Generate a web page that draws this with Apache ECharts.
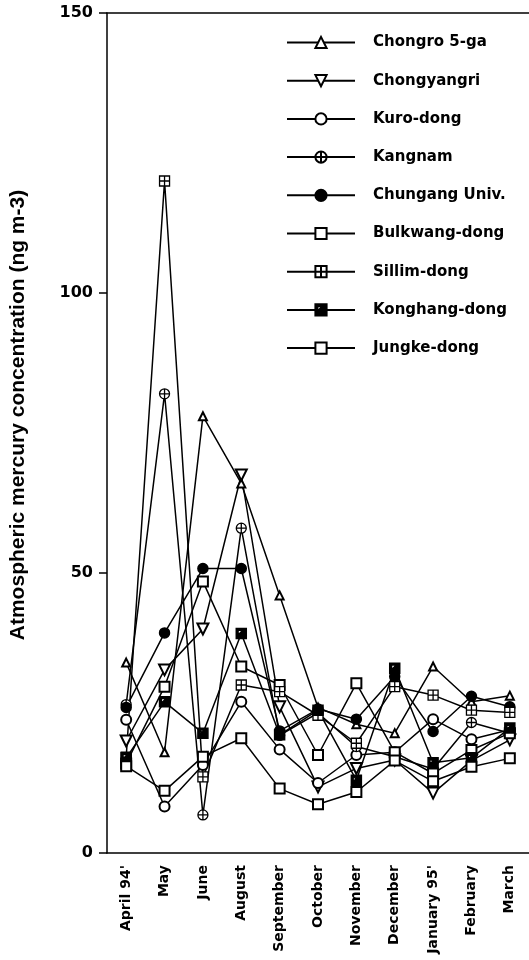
<!DOCTYPE html>
<html>
<head>
<meta charset="utf-8">
<script src="https://cdn.jsdelivr.net/npm/echarts@6/dist/echarts.min.js"></script>
<style>
    html, body { margin: 0; padding: 0; background: #fff; }
    #chart { width: 529px; height: 960px; }
</style>
</head>
<body>
<div id="chart"></div>
<script>
var months = ["April 94'", 'May', 'June', 'August', 'September', 'October',
    'November', 'December', "January 95'", 'February', 'March'];

var chongro = [34, 18, 78, 66, 46, 26, 23, 21.4, 33.3, 27, 28.1];
var chongyangri = [20, 32.7, 40, 67.5, 26.1, 11.8, 15.1, 16.6, 10.7, 16.5, 20.2];
var kuro = [23.8, 8.3, 15.7, 27, 18.5, 12.5, 17.5, 18, 23.9, 20.3, 22];
var kangnam = [26.5, 82, 6.8, 58, 21, 25, 19, 17.2, 15, 23.3, 21.4];
var chungang = [26, 39.3, 50.8, 50.8, 21.8, 25.7, 23.9, 31.5, 21.7, 28, 26.1];
var bulkwang = [16, 29.7, 48.5, 33.3, 30, 17.5, 30.3, 18, 14.2, 18.4, 21.4];
var sillim = [17.1, 120, 13.6, 30, 28.8, 24.6, 19.6, 29.7, 28.2, 25.5, 25.1];
var konghang = [17, 27, 21.4, 39.2, 21.1, 25.5, 13, 33, 16.1, 17, 22.3];
var jungke = [15.5, 11.1, 17.2, 20.5, 11.5, 8.7, 10.9, 16.5, 12.8, 15.4, 16.9];

var yTicks = [0, 50, 100, 150];

// custom marker shapes
var circlePlus = 'path://M10,5A5,5,0,1,1,0,5A5,5,0,1,1,10,5Z M5,0L5,10 M0,5L10,5';
var rectPlus = 'path://M0,0L10,0L10,10L0,10Z M5,0L5,10 M0,5L10,5';
var rectHalf = 'path://M0,0L10,0L10,10L0,10Z M1.8,1.8L1.8,6.5L6.5,1.8Z';

var dom = document.getElementById('chart');
var myChart = echarts.init(dom);

var font = 'DejaVu Sans';

function line(name, values, symbol, size, opts) {
    var s = {
        name: name,
        type: 'line',
        data: values,
        symbol: symbol,
        symbolSize: size,
        lineStyle: { color: '#000', width: 1.5 },
        itemStyle: { color: '#000', borderColor: '#000', borderWidth: 1.5 },
        emphasis: { disabled: true }
    };
    if (opts) {
        for (var k in opts) s[k] = opts[k];
    }
    return s;
}

var whiteFill = { color: '#fff', borderColor: '#000', borderWidth: 1.3 };

var option = {
    animation: false,
    backgroundColor: '#fff',
    grid: { left: 106, top: 13, width: 423, height: 840, containLabel: false },
    legend: {
        orient: 'vertical',
        left: 281,
        top: 30,
        itemWidth: 68,
        itemHeight: 14,
        itemGap: 23.2,
        textStyle: {
            fontFamily: font, fontWeight: 'bold', fontSize: 15, color: '#000',
            lineHeight: 14, padding: [0, 0, 0, 13]
        },
        data: ['Chongro 5-ga', 'Chongyangri', 'Kuro-dong', 'Kangnam', 'Chungang Univ.',
            'Bulkwang-dong', 'Sillim-dong', 'Konghang-dong', 'Jungke-dong']
    },
    xAxis: [{
        type: 'category',
        data: months,
        boundaryGap: true,
        axisLine: { lineStyle: { color: '#000', width: 1.5 } },
        axisTick: { alignWithLabel: true, length: 6, lineStyle: { color: '#000', width: 1.5 } },
        axisLabel: {
            rotate: 90, margin: 12, interval: 0,
            fontFamily: font, fontWeight: 'bold', fontSize: 14, color: '#000'
        },
        splitLine: { show: false }
    }, {
        type: 'category',
        data: months,
        position: 'top',
        axisLine: { lineStyle: { color: '#000', width: 1.5 } },
        axisTick: { show: false },
        axisLabel: { show: false }
    }],
    yAxis: {
        type: 'value',
        min: 0,
        max: 150,
        interval: 50,
        name: 'Atmospheric mercury concentration (ng m-3)',
        nameLocation: 'middle',
        nameGap: 78,
        nameTextStyle: {
            fontFamily: 'Liberation Sans', fontWeight: 'bold', fontSize: 21, color: '#000',
            padding: [0, 0, 0, 36]
        },
        axisLine: { show: true, lineStyle: { color: '#000', width: 1.5 } },
        axisTick: { show: true, length: 8, lineStyle: { color: '#000', width: 1.5 } },
        axisLabel: {
            margin: 14, fontFamily: font, fontWeight: 'bold', fontSize: 16, color: '#000',
            formatter: function (v) { return yTicks.indexOf(v) >= 0 ? String(v) : ''; }
        },
        splitLine: { show: false }
    },
    series: [
        line('Chongro 5-ga', chongro, 'emptyTriangle', 8),
        line('Chongyangri', chongyangri, 'emptyTriangle', 11, { symbolRotate: 180 }),
        line('Kuro-dong', kuro, 'emptyCircle', 10),
        line('Kangnam', kangnam, circlePlus, 10, { itemStyle: whiteFill }),
        line('Chungang Univ.', chungang, 'circle', 10),
        line('Bulkwang-dong', bulkwang, 'emptyRect', 10),
        line('Sillim-dong', sillim, rectPlus, 10, { itemStyle: whiteFill }),
        line('Konghang-dong', konghang, rectHalf, 10),
        line('Jungke-dong', jungke, 'emptyRect', 10)
    ]
};

if (option && typeof option === 'object') {
    myChart.setOption(option, true);
}
</script>
</body>
</html>
